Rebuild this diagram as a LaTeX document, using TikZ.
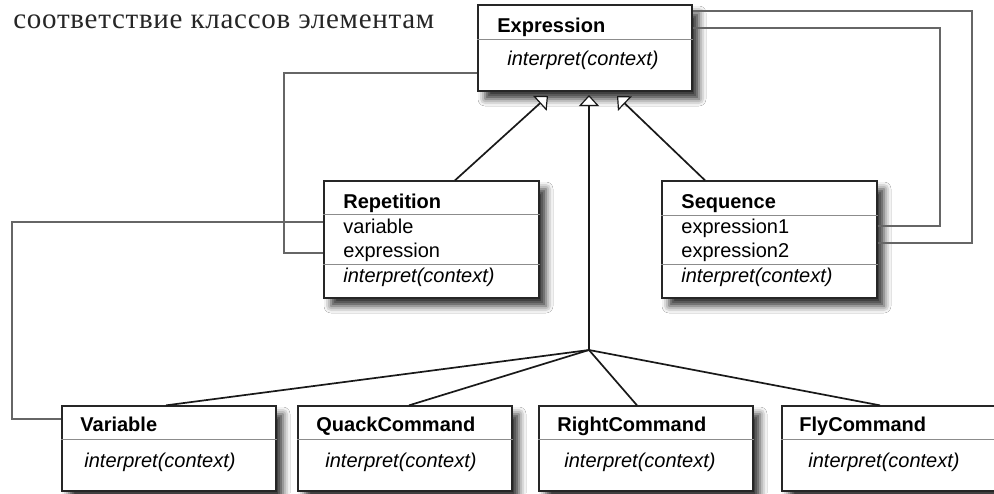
\documentclass[tikz,border=0pt]{standalone}
\usepackage{fontspec}
\setmainfont{Liberation Sans}
\newfontfamily\cyrserif[LetterSpace=2.5]{Liberation Serif}
\usetikzlibrary{arrows.meta,fit,shadows.blur}
\tikzset{
  umlbox/.style={draw=black!85, line width=0.65pt, fill=white, inner sep=0pt,
    blur shadow={shadow xshift=3.5pt, shadow yshift=-4pt, shadow blur radius=3.5pt, shadow opacity=80}},
  divider/.style={draw=black!45, line width=0.5pt},
  title/.style={font=\bfseries\fontsize{10}{12}\selectfont, anchor=base west, inner sep=0pt},
  attr/.style={font=\fontsize{10}{12}\selectfont, anchor=base west, inner sep=0pt},
  op/.style={font=\itshape\fontsize{10}{12}\selectfont, anchor=base west, inner sep=0pt},
  assoc/.style={draw=black!60, line width=1.3pt},
  inh/.style={draw=black!90, line width=0.85pt},
  inhtip/.style={-{Triangle[open, line width=0.6pt, width=10pt, length=5.5pt, fill=white]}},
  cyrnote/.style={font=\cyrserif\fontsize{14.5}{17}\selectfont, anchor=base west, inner sep=0pt, text=black!85}
}
\begin{document}
\begin{tikzpicture}[x=0.5pt, y=-0.5pt]
\clip (0,0) rectangle (994,493);
\fill[white] (0,0) rectangle (994,493);

\node[cyrnote] (note) at (13,28) {соответствие классов элементам};

% boxes
\node[umlbox, fit={(478,5) (692,91)}] (expr) {};
\node[umlbox, fit={(324,181) (539,298)}] (rep) {};
\node[umlbox, fit={(662,181) (877,298)}] (seq) {};
\node[umlbox, fit={(62,406) (276,491)}] (var) {};
\node[umlbox, fit={(298,406) (512,491)}] (quack) {};
\node[umlbox, fit={(539,406) (753,491)}] (right) {};
\node[umlbox, fit={(782,406) (1010,491)}] (fly) {};

% dividers
\draw[divider] (expr.west |- 0,39) -- (expr.east |- 0,39);
\draw[divider] (rep.west |- 0,214) -- (rep.east |- 0,214);
\draw[divider] (rep.west |- 0,264) -- (rep.east |- 0,264);
\draw[divider] (seq.west |- 0,215) -- (seq.east |- 0,215);
\draw[divider] (seq.west |- 0,264) -- (seq.east |- 0,264);
\draw[divider] (var.west |- 0,439) -- (var.east |- 0,439);
\draw[divider] (quack.west |- 0,439) -- (quack.east |- 0,439);
\draw[divider] (right.west |- 0,439) -- (right.east |- 0,439);
\draw[divider] (fly.west |- 0,439) -- (fly.east |- 0,439);

% texts
\node[title] (exprT) at (497,32) {Expression};
\node[op] (exprO) at (507,65) {interpret(context)};

\node[title] (repT) at (343,208) {Repetition};
\node[attr] (repA1) at (343,233) {variable};
\node[attr] (repA2) at (343,257) {expression};
\node[op] (repO) at (343,282) {interpret(context)};

\node[title] (seqT) at (681,208) {Sequence};
\node[attr] (seqA1) at (681,233) {expression1};
\node[attr] (seqA2) at (681,257) {expression2};
\node[op] (seqO) at (681,282) {interpret(context)};

\node[title] (varT) at (80,431) {Variable};
\node[op] (varO) at (84,467) {interpret(context)};
\node[title] (quackT) at (316,431) {QuackCommand};
\node[op] (quackO) at (325,467) {interpret(context)};
\node[title] (rightT) at (557,431) {RightCommand};
\node[op] (rightO) at (564,467) {interpret(context)};
\node[title] (flyT) at (799,431) {FlyCommand};
\node[op] (flyO) at (808,467) {interpret(context)};

% associations
\draw[assoc] (expr.west |- 0,73) -- (284,73) -- (284,253) -- (rep.west |- 0,253);
\draw[assoc] (rep.west |- 0,222) -- (12,222) -- (12,419) -- (var.west |- 0,419);
\draw[assoc] (seq.east |- 0,226) -- (940,226) -- (940,28) -- (expr.east |- 0,28);
\draw[assoc] (seq.east |- 0,243) -- (972,243) -- (972,11) -- (expr.east |- 0,11);

% inheritance
\coordinate (tipL) at (548,96);
\coordinate (tipC) at (589,95);
\coordinate (tipR) at (617,96);
\coordinate (junc) at (589,350);
\draw[inh, inhtip] (rep.north -| 455,0) -- (tipL);
\draw[inh, inhtip] (seq.north -| 705,0) -- (tipR);
\draw[inh, inhtip] (junc) -- (tipC);
\draw[inh] (var.north -| 166,0) -- (junc);
\draw[inh] (quack.north -| 409,0) -- (junc);
\draw[inh] (right.north -| 637,0) -- (junc);
\draw[inh] (fly.north -| 880,0) -- (junc);
\end{tikzpicture}
\end{document}
